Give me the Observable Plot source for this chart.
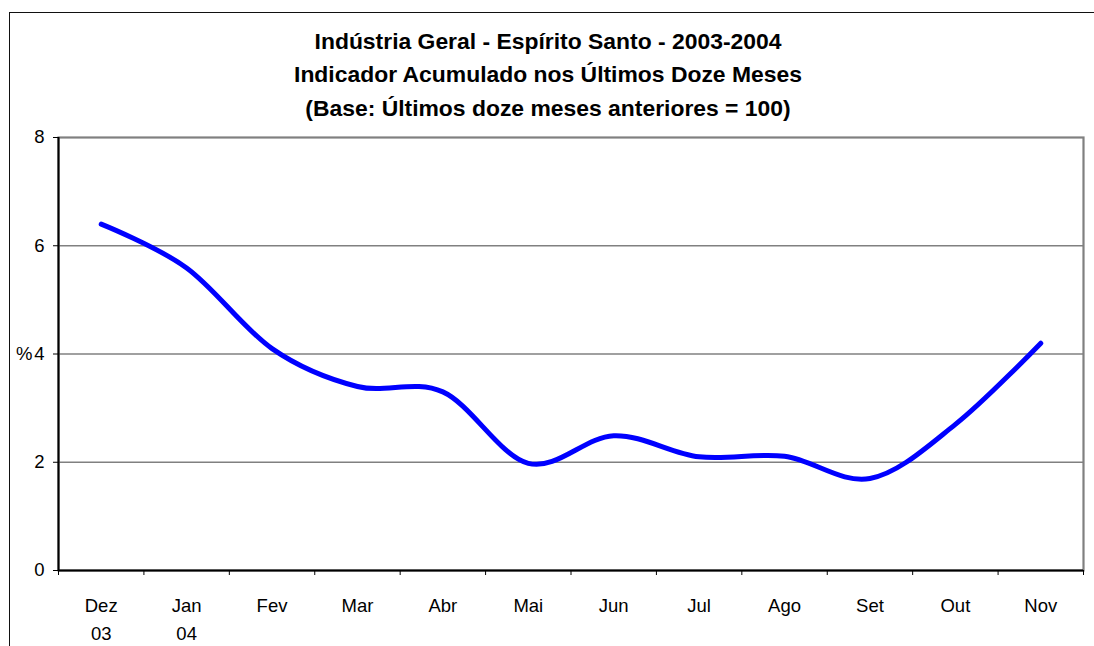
<!DOCTYPE html>
<html>
<head>
<meta charset="utf-8">
<script src="https://cdn.jsdelivr.net/npm/d3@7"></script>
<script src="https://cdn.jsdelivr.net/npm/@observablehq/plot@0.6"></script>
<style>
  html, body { margin: 0; padding: 0; background: #fff; overflow: hidden; }
  #wrap { position: relative; width: 1094px; height: 646px; }
  #chart { position: absolute; left: 0; top: 0; }
  #border { position: absolute; left: 9px; top: 12px; width: 1200px; height: 800px;
            border-top: 1.5px solid #111; border-left: 1.5px solid #111; pointer-events: none; }
  #title { position: absolute; left: 0; top: 24.5px; width: 1096px; text-align: center;
           font-family: "Liberation Sans", Arial, sans-serif; font-weight: bold; font-size: 22.9px;
           line-height: 33.5px; color: #000; }
</style>
</head>
<body>
<div id="wrap">
  <div id="chart"></div>
  <div id="border"></div>
  <div id="title">Indústria Geral - Espírito Santo - 2003-2004<br>Indicador Acumulado nos Últimos Doze Meses<br>(Base: Últimos doze meses anteriores = 100)</div>
</div>
<script>
const months = ["Dez", "Jan", "Fev", "Mar", "Abr", "Mai", "Jun", "Jul", "Ago", "Set", "Out", "Nov"];
const years  = ["03", "04", "", "", "", "", "", "", "", "", "", ""];
const values = [6.4, 5.59, 4.1, 3.40, 3.30, 1.98, 2.49, 2.10, 2.11, 1.70, 2.70, 4.2];
const yTicks = [0, 2, 4, 6, 8];
const gridValues = [2, 4, 6];
const yUnit = "%";

const data = months.map((m, i) => ({month: m, year: years[i], value: values[i], idx: i}));
const boundaries = d3.range(months.length + 1);

const chart = Plot.plot({
  width: 1094,
  height: 646,
  marginLeft: 58,
  marginRight: 11,
  marginTop: 137,
  marginBottom: 76,
  style: {fontFamily: "'Liberation Sans', Arial, sans-serif", fontSize: "18.5px", background: "transparent", color: "#000", overflow: "visible"},
  x: {domain: [0, months.length], axis: null},
  y: {domain: [0, 8], axis: null},
  marks: [
    Plot.gridY(gridValues, {stroke: "#808080", strokeOpacity: 1, strokeWidth: 1.4}),
    Plot.frame({stroke: "#808080", strokeWidth: 2.2}),
    Plot.ruleY([0], {stroke: "#000", strokeWidth: 2}),
    Plot.ruleX([0], {stroke: "#000", strokeWidth: 2}),
    Plot.axisY(yTicks, {anchor: "left", tickSize: 5, tickPadding: 9, label: null, fontSize: 18.5, tickFormat: d => String(d)}),
    Plot.text([4], {y: d => d, frameAnchor: "left", text: () => yUnit, textAnchor: "end", dx: -26, fontSize: 18.5}),
    Plot.axisX(boundaries, {anchor: "bottom", tickSize: 5, tickFormat: () => "", label: null}),
    Plot.text(data, {x: d => d.idx + 0.5, frameAnchor: "bottom", lineAnchor: "top", dy: 22.3, lineHeight: 1.5,
                     text: d => d.year ? d.month + "\n" + d.year : d.month, fontSize: 18.5}),
    Plot.line(data, {x: d => d.idx + 0.5, y: "value", stroke: "#0000ff", strokeWidth: 5, curve: "cardinal", tension: 0})
  ]
});
document.getElementById("chart").appendChild(chart);
</script>
</body>
</html>
